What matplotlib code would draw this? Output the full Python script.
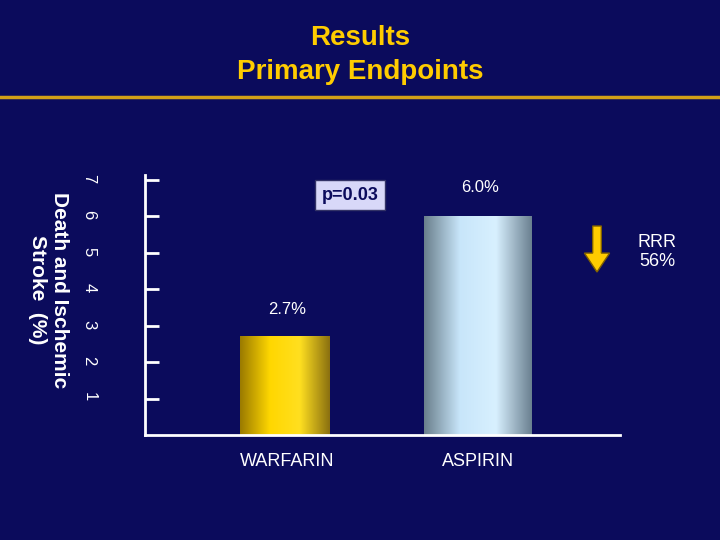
import matplotlib
matplotlib.use("Agg")
import matplotlib.pyplot as plt
import numpy as np
from matplotlib.colors import LinearSegmentedColormap

plt.rcParams['font.family'] = ['Liberation Sans', 'DejaVu Sans']
categories = ["WARFARIN", "ASPIRIN"]
values = [2.7, 6.0]
value_labels = ["2.7%", "6.0%"]
yticks = [1, 2, 3, 4, 5, 6, 7]

bg = '#0b0b5c'
fig = plt.figure(figsize=(7.2, 5.4), dpi=100, facecolor=bg)
W, H = 720, 540
def fx(x): return x / W
def fy(y): return 1 - y / H

fig.text(0.5, fy(38), "Results", ha='center', va='center', color='#ffcc00', fontsize=20, fontweight='bold')
fig.text(0.5, fy(72), "Primary Endpoints", ha='center', va='center', color='#ffcc00', fontsize=20, fontweight='bold')
fig.add_artist(plt.Line2D([0, 1], [fy(97), fy(97)], color='#d4a017', lw=2.5))

ax = fig.add_axes([fx(145), fy(435), fx(620) - fx(145), (435 - 175) / H])
ax.set_facecolor(bg)
ax.set_xlim(0, 475)
ax.set_ylim(0, 260 / 36.5)
for s in ['top', 'right']:
    ax.spines[s].set_visible(False)
for s in ['left', 'bottom']:
    ax.spines[s].set_color('white'); ax.spines[s].set_linewidth(2)
ax.set_xticks([])
ax.set_yticks(yticks)
ax.tick_params(axis='y', direction='in', length=10, width=2, color='white', labelcolor='white', labelsize=12, pad=35, labelrotation=-90)

centers = [140, 333]
widths = [90, 108]
cmaps = [LinearSegmentedColormap.from_list('g', ['#9a7a00', '#ffd700', '#ffdf20', '#8a7010']),
         LinearSegmentedColormap.from_list('b', ['#6a7f8c', '#c8e6fa', '#d8f0ff', '#6a8090'])]
grad = np.linspace(0, 1, 256).reshape(1, -1)
for c, w, v, cm in zip(centers, widths, values, cmaps):
    ax.imshow(grad, cmap=cm, aspect='auto', extent=[c - w / 2, c + w / 2, 0, v], zorder=2)
ax.set_xlim(0, 475); ax.set_ylim(0, 260 / 36.5)

fig.text(fx(287), fy(310), value_labels[0], ha='center', va='center', color='white', fontsize=12)
fig.text(fx(480), fy(188), value_labels[1], ha='center', va='center', color='white', fontsize=12)
fig.text(fx(287), fy(462), categories[0], ha='center', va='center', color='white', fontsize=13)
fig.text(fx(478), fy(462), categories[1], ha='center', va='center', color='white', fontsize=13)
fig.text(fx(350), fy(195), "p=0.03", ha='center', va='center', color='#0b0b5c', fontsize=13, fontweight='bold',
         bbox=dict(boxstyle='square,pad=0.35', fc='#d8d8f8', ec='#333366'))
fig.text(fx(657), fy(252), "RRR\n56%", ha='center', va='center', color='white', fontsize=13, linespacing=1.2)
fig.add_artist(matplotlib.patches.FancyArrow(fx(597), fy(226), 0, -(272 - 226) / H, width=0.012,
               head_width=0.035, head_length=0.035, length_includes_head=True, color='#ffcc00', ec='#806000'))
fig.text(fx(48), fy(290), "Death and Ischemic\nStroke  (%)", ha='center', va='center', color='white',
         fontsize=15, fontweight='bold', rotation=-90, linespacing=1.2)

fig.savefig("out.png", facecolor=bg)
